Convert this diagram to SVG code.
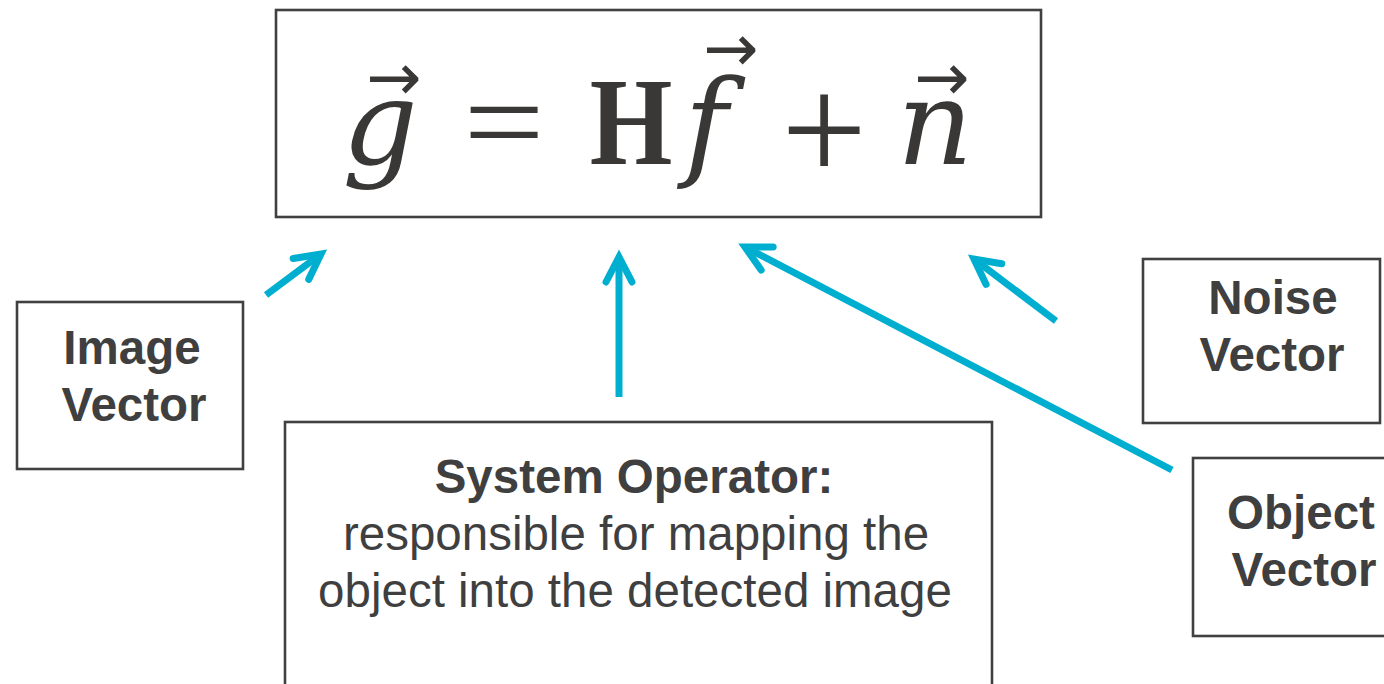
<svg xmlns="http://www.w3.org/2000/svg" width="1384" height="684" viewBox="0 0 1384 684">
<style>
.box{fill:#ffffff;stroke:#404040;stroke-width:2.6}
.lbl{font-family:"Liberation Sans",Arial,sans-serif;font-size:47.5px;fill:#3f3f3f;text-anchor:middle}
.b{font-weight:bold}
.m{font-family:"Liberation Serif","Times New Roman",serif;fill:#3a3836;text-anchor:middle}
.it{font-family:"DejaVu Serif",serif;font-style:italic}
.va{font-family:"DejaVu Sans",sans-serif;font-style:normal;font-weight:normal;font-size:66px}
.conn{stroke:#00AFCF;stroke-width:7;fill:none;marker-end:url(#ah)}
</style>
<defs>
<marker id="ah" markerUnits="userSpaceOnUse" viewBox="-40 -25 55 50" markerWidth="55" markerHeight="50" refX="0" refY="0" orient="auto" overflow="visible">
<path d="M-25,-13 L0,0 L-25,13" fill="none" stroke="#00AFCF" stroke-width="7" stroke-linecap="round" stroke-linejoin="miter"/>
</marker>
</defs>
<rect width="1384" height="684" fill="#ffffff"/>

<g id="equation">
<rect class="box" x="276" y="10" width="765" height="207"/>
<text class="m it" font-size="118" x="380" y="164">g<tspan class="va" x="394" y="100">→</tspan></text>
<text class="m" font-size="125" transform="translate(504,164) scale(1.15,1)">=</text>
<text class="m" font-weight="bold" font-size="125" transform="translate(631,164) scale(0.85,1)">H</text>
<text class="m it" font-size="118" x="706" y="164">f<tspan class="va" x="731" y="71">→</tspan></text>
<text class="m" font-size="152" x="824" y="181">+</text>
<text class="m it" font-size="118" x="935" y="164">n<tspan class="va" x="942" y="100">→</tspan></text>
</g>

<g id="image-vector">
<rect class="box" x="17" y="302" width="226" height="167"/>
<text class="lbl b" x="132" y="364">Image</text>
<text class="lbl b" x="134" y="421">Vector</text>
</g>

<g id="system-operator">
<rect class="box" x="285" y="422" width="707" height="300"/>
<text class="lbl b" x="634" y="493">System Operator:</text>
<text class="lbl" x="636" y="550">responsible for mapping the</text>
<text class="lbl" x="635" y="607">object into the detected image</text>
</g>

<g id="noise-vector">
<rect class="box" x="1143" y="259" width="237" height="164"/>
<text class="lbl b" x="1273" y="314">Noise</text>
<text class="lbl b" x="1272" y="371">Vector</text>
</g>

<g id="object-vector">
<rect class="box" x="1193" y="458" width="220" height="178"/>
<text class="lbl b" x="1301" y="529">Object</text>
<text class="lbl b" x="1304" y="586">Vector</text>
</g>

<g id="connectors">
<line class="conn" x1="266" y1="295" x2="321" y2="254"/>
<line class="conn" x1="619" y1="397" x2="619" y2="257"/>
<line class="conn" x1="1172" y1="470" x2="745" y2="247"/>
<line class="conn" x1="1056" y1="321" x2="974" y2="259"/>
</g>
</svg>
